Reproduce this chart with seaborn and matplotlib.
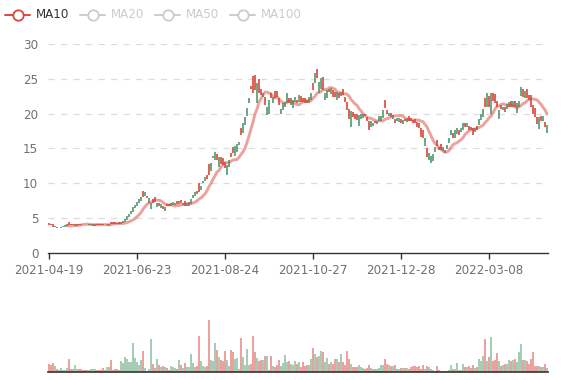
import numpy as np
import pandas as pd
import matplotlib
matplotlib.use("Agg")
import matplotlib.pyplot as plt
from matplotlib.lines import Line2D
import seaborn as sns

# ---------------- data ----------------
tick_labels = ["2021-04-19", "2021-06-23", "2021-08-24", "2021-10-27", "2021-12-28", "2022-03-08"]
tick_step = 44
ma_names = ["MA10", "MA20", "MA50", "MA100"]

open_ = [4.0, 4.0, 3.8, 3.9, 3.6, 3.7, 3.8, 3.9, 4.0, 4.1,
         4.0, 4.0, 4.0, 4.2, 4.1, 4.0, 4.0, 4.1, 4.1, 4.1,
         4.2, 4.1, 4.1, 4.1, 4.0, 4.0, 4.0, 4.0, 4.1, 4.2,
         4.1, 4.1, 4.2, 4.2, 4.2, 4.2, 4.4, 4.6, 4.9, 5.3,
         5.6, 6.0, 6.6, 6.9, 7.3, 7.7, 8.0, 8.0, 8.8, 7.9,
         7.9, 7.2, 7.2, 7.3, 7.2, 6.8, 7.0, 6.3, 6.6, 6.7,
         6.7, 7.2, 7.3, 7.2, 7.1, 7.4, 7.2, 7.2, 6.8, 7.2,
         7.3, 7.7, 8.3, 8.7, 8.4, 8.8, 9.6, 10.4, 10.9, 10.6,
         11.2, 12.9, 13.9, 14.5, 13.3, 13.8, 12.8, 12.6, 12.2, 12.6,
         13.4, 13.8, 14.4, 15.4, 15.6, 16.0, 16.9, 18.6, 19.5, 20.8,
         22.2, 23.6, 23.0, 23.4, 24.4, 23.0, 22.7, 22.9, 21.2, 21.0,
         22.0, 22.2, 22.4, 22.2, 22.4, 21.2, 20.6, 21.5, 21.7, 22.9,
         21.5, 22.2, 21.9, 22.4, 21.5, 22.7, 21.7, 21.7, 21.5, 21.6,
         22.4, 22.9, 23.4, 25.8, 25.1, 24.6, 25.1, 23.4, 23.0, 23.4,
         23.1, 23.7, 22.4, 22.4, 23.1, 22.2, 23.1, 22.7, 21.7, 20.5,
         19.2, 20.4, 19.5, 19.3, 19.1, 19.8, 20.0, 19.9, 19.6, 18.9,
         17.6, 18.9, 18.7, 18.6, 19.0, 19.6, 19.6, 20.5, 20.8, 20.0,
         20.1, 19.5, 19.8, 18.6, 19.4, 19.4, 18.7, 19.1, 18.9, 19.4,
         18.9, 18.9, 18.7, 18.7, 18.1, 17.9, 16.6, 16.5, 16.5, 13.8,
         14.3, 13.9, 14.2, 15.2, 15.3, 14.8, 14.8, 15.2, 14.8, 15.5,
         16.5, 17.6, 16.5, 17.6, 18.0, 16.9, 18.0, 18.7, 18.1, 18.7,
         17.7, 17.6, 16.9, 17.9, 17.6, 19.2, 20.0, 20.6, 21.0, 23.0,
         21.0, 23.0, 21.8, 21.5, 21.0, 20.5, 20.6, 21.0, 20.2, 21.4,
         21.7, 21.0, 21.8, 21.0, 21.5, 21.8, 23.8, 22.4, 23.3, 22.3,
         22.0, 21.0, 20.0, 19.5, 18.5, 19.5, 19.0, 19.6, 18.1, 18.4]

close = [4.3, 4.2, 4.1, 3.7, 3.8, 3.8, 3.6, 3.7, 3.8, 3.9,
         4.4, 4.2, 4.1, 3.9, 3.9, 4.2, 4.2, 4.2, 4.2, 4.2,
         4.0, 4.0, 3.9, 3.9, 4.1, 4.1, 4.1, 4.2, 4.2, 4.0,
         3.9, 4.5, 4.4, 4.4, 4.3, 4.4, 4.1, 4.3, 4.5, 4.8,
         5.2, 5.6, 5.9, 6.4, 6.8, 7.2, 7.5, 8.9, 8.2, 8.2,
         7.2, 6.3, 7.7, 8.0, 6.6, 7.2, 6.5, 6.7, 6.0, 7.0,
         7.0, 6.7, 6.9, 6.9, 7.4, 7.0, 7.6, 6.9, 7.4, 6.8,
         6.8, 7.1, 7.9, 8.2, 8.9, 10.0, 9.0, 10.0, 10.3, 11.2,
         12.8, 11.8, 13.6, 13.4, 14.2, 12.3, 13.8, 13.6, 13.0, 11.2,
         12.4, 14.3, 15.2, 13.9, 14.5, 15.5, 17.9, 17.2, 18.4, 19.7,
         21.5, 24.0, 25.4, 25.5, 21.5, 25.0, 23.5, 22.4, 22.4, 19.8,
         20.0, 23.0, 21.5, 23.3, 23.3, 22.2, 20.0, 20.5, 21.0, 21.5,
         22.2, 21.3, 20.8, 21.7, 22.0, 21.7, 22.5, 22.2, 22.2, 22.0,
         21.5, 22.0, 24.4, 24.4, 26.4, 23.0, 23.6, 25.2, 22.0, 22.2,
         23.6, 22.8, 23.4, 23.1, 22.0, 22.9, 22.5, 23.6, 22.4, 21.7,
         20.7, 18.1, 20.2, 20.0, 19.9, 18.2, 19.2, 19.4, 20.0, 19.5,
         18.9, 18.1, 18.3, 19.0, 18.5, 19.0, 19.0, 19.4, 22.0, 20.5,
         19.7, 20.1, 19.2, 19.3, 18.9, 18.8, 19.3, 18.5, 19.3, 18.8,
         19.6, 19.4, 19.1, 19.3, 18.8, 18.6, 17.9, 17.7, 15.4, 15.0,
         13.3, 12.9, 13.2, 14.5, 16.2, 15.2, 15.7, 14.6, 14.3, 14.9,
         15.8, 16.9, 17.2, 16.5, 17.1, 17.7, 17.4, 17.7, 18.6, 18.1,
         18.2, 18.1, 17.9, 17.3, 18.2, 18.4, 19.1, 19.5, 22.2, 21.0,
         22.5, 20.0, 23.0, 22.8, 21.8, 19.2, 21.2, 20.5, 20.9, 20.7,
         21.0, 21.8, 21.0, 21.8, 20.1, 21.0, 22.5, 23.6, 22.2, 23.5,
         22.7, 22.7, 21.2, 20.8, 19.5, 17.8, 19.6, 19.0, 18.8, 17.2]

volume = [8, 7, 9, 6, 3, 2, 4, 2, 2, 4,
          13, 3, 3, 7, 3, 3, 3, 2, 2, 2,
          2, 3, 3, 3, 2, 2, 2, 4, 2, 5,
          5, 12, 2, 3, 3, 2, 11, 9, 15, 13,
          10, 10, 29, 14, 10, 7, 12, 21, 4, 0.6,
          3, 33, 8, 4, 13, 7, 5, 6, 5, 4,
          2, 6, 5, 4, 3, 12, 7, 4, 9, 5,
          5, 18, 9, 5, 6, 36, 11, 6, 5, 6,
          52, 12, 11, 29, 22, 15, 12, 11, 21, 12,
          6, 22, 20, 13, 14, 3, 34, 15, 7, 23,
          7, 8, 36, 20, 14, 11, 12, 12, 16, 16,
          2, 16, 6, 5, 7, 12, 6, 9, 17, 10,
          11, 8, 7, 11, 8, 10, 5, 10, 6, 7,
          7, 13, 24, 18, 15, 16, 21, 20, 10, 14,
          8, 10, 8, 13, 13, 10, 18, 10, 7, 21,
          13, 8, 5, 5, 5, 7, 5, 4, 3, 4,
          7, 4, 3, 3, 3, 4, 7, 7, 13, 8,
          7, 6, 6, 7, 3, 3, 4, 4, 4, 4,
          3, 5, 6, 6, 5, 6, 3, 7, 3, 6,
          5, 3, 2, 1.5, 6, 2, 1.5, 1, 1.5, 1.5,
          2, 7, 3, 3, 9, 2, 2, 8, 5, 5,
          6, 4, 7, 4, 5, 13, 11, 16, 33, 11,
          15, 35, 11, 12, 19, 11, 6, 7, 8, 8,
          12, 11, 12, 13, 10, 20, 28, 12, 12, 11,
          8, 13, 20, 6, 6, 6, 5, 5, 8, 4]

# ---------------- style ----------------
UP = "#d9473a"
DOWN = "#4f9a70"
LABEL_C = "#6e7079"
AXIS_C = "#333333"
W, H = 577, 380

sns.set_theme(style="white")
plt.rcParams["font.family"] = ["DejaVu Sans"]

n = len(close)
idx = np.arange(n)
o = np.array(open_)
c = np.array(close)
direction = np.where(c >= o, "up", "down")
df = pd.DataFrame({"i": idx, "open": o, "close": c, "volume": volume, "dir": direction})
df["ma10"] = df["close"].rolling(10).mean()

fig = plt.figure(figsize=(W / 100, H / 100), dpi=100)
ax = fig.add_axes([48 / W, 1 - 253 / H, 500 / W, 209 / H])
axv = fig.add_axes([48 / W, 1 - 372 / H, 500 / W, 60 / H])

# grid lines
for v in [5, 10, 15, 20, 25, 30]:
    ax.axhline(v, color="#dddddd", lw=0.9, ls=(0, (5, 5)), zorder=0)

# candles
cols = np.where(df["dir"] == "up", UP, DOWN)
ax.vlines(df["i"], np.minimum(o, c), np.maximum(o, c), colors=cols, lw=1.2, zorder=2)

# MA10
sns.lineplot(data=df, x="i", y="ma10", color=UP, alpha=0.5, lw=2.1, ax=ax, zorder=3)

ax.set_xlim(-0.5, n - 0.5)
ax.set_ylim(0, 30)
ax.set_yticks([0, 5, 10, 15, 20, 25, 30])
ax.set_yticklabels(["0", "5", "10", "15", "20", "25", "30"])
tpos = [k * tick_step for k in range(len(tick_labels))]
ax.set_xticks(tpos)
ax.set_xticklabels(tick_labels)
ax.set_xlabel("")
ax.set_ylabel("")
for s in ["top", "right", "left"]:
    ax.spines[s].set_visible(False)
ax.spines["bottom"].set_color(AXIS_C)
ax.spines["bottom"].set_linewidth(1)
ax.tick_params(axis="y", length=0, pad=7, labelsize=8.6, labelcolor=LABEL_C)
ax.tick_params(axis="x", length=4, width=1, color=AXIS_C, direction="out",
               pad=4, labelsize=8.6, labelcolor=LABEL_C, bottom=True)
ax.grid(False)

# volume
sns.barplot(data=df, x="i", y="volume", hue="dir", palette={"up": UP, "down": DOWN},
            native_scale=True, dodge=False, width=0.7, saturation=1, alpha=0.5,
            linewidth=0, legend=False, errorbar=None, ax=axv)
axv.set_xlim(-0.5, n - 0.5)
axv.set_ylim(0, 60)
axv.set_xticks([])
axv.set_yticks([])
axv.set_xlabel("")
axv.set_ylabel("")
for s in ["top", "right", "left"]:
    axv.spines[s].set_visible(False)
axv.spines["bottom"].set_color(AXIS_C)
axv.spines["bottom"].set_linewidth(1.2)
axv.grid(False)

# legend
yc = 1 - 15 / H
leg_x = [5, 80, 155, 230]
for k, name in enumerate(ma_names):
    active = k == 0
    ic = UP if active else "#cccccc"
    tc = "#333333" if active else "#cccccc"
    x0 = leg_x[k]
    fig.add_artist(Line2D([x0 / W, (x0 + 25) / W], [yc, yc], transform=fig.transFigure,
                          color=ic, lw=1.4))
    fig.add_artist(Line2D([(x0 + 12.5) / W], [yc], transform=fig.transFigure, marker="o",
                          ms=7.5, mfc="white", mec=ic, mew=1.3, lw=0))
    fig.text((x0 + 31) / W, yc, name, color=tc, va="center", ha="left", fontsize=8.6)

fig.savefig("out.png", dpi=100)
